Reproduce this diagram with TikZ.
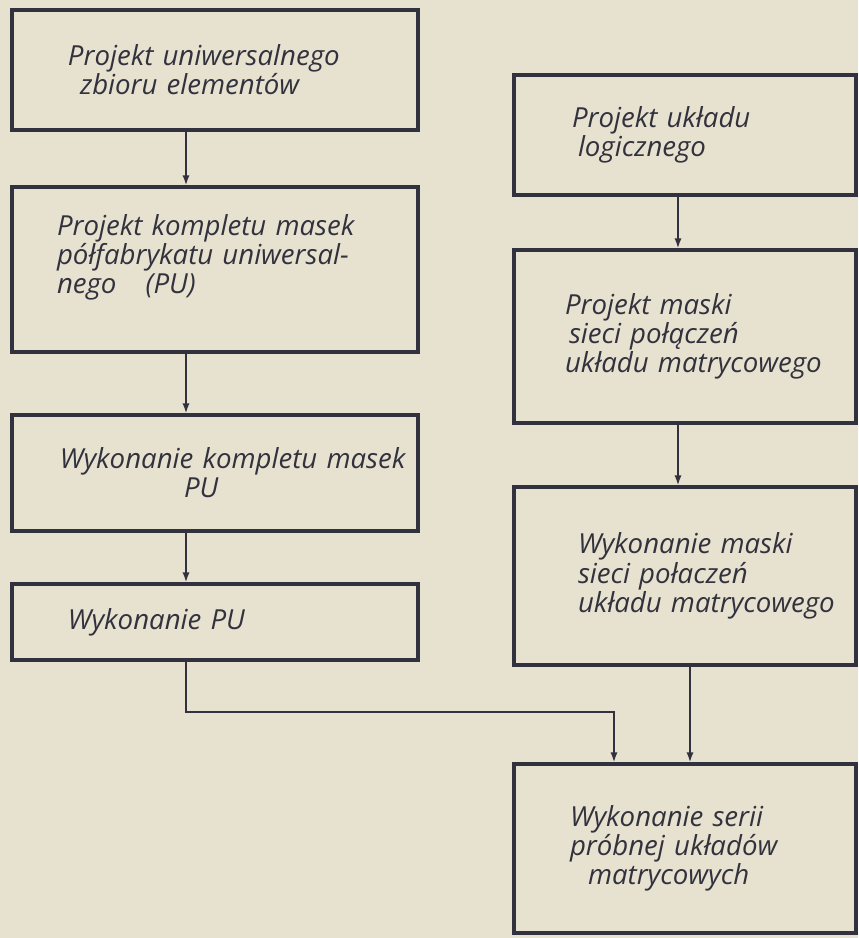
\documentclass[tikz,border=0pt]{standalone}
\usepackage{fontspec}
\usepackage{tikz}
\usetikzlibrary{arrows.meta}
\newfontfamily\lettering[WordSpace=2.2]{Open Sans}
\definecolor{paper}{RGB}{231,225,207}
\definecolor{ink}{RGB}{50,50,62}
\tikzstyle{stage} = [draw=ink, line width=1.6pt, rectangle, inner sep=0pt,
    text=ink, align=left, font=\lettering\itshape\fontsize{13.8}{14.6}\selectfont]
\tikzstyle{leftstage} = [stage, text width=203pt]
\tikzstyle{rightstage} = [stage, text width=171pt]
\tikzstyle{lpad} = [execute at begin node={\leftskip=#1\relax}]
\tikzstyle{flow} = [draw=ink, line width=1.1pt, -{Latex[length=5pt,width=3.6pt]}]

\begin{document}
\begin{tikzpicture}[x=0.5pt, y=-0.5pt]
                \fill[paper] (0,0) rectangle (858,938);
                \node[leftstage, minimum height=60pt, lpad=28pt] (uniset) at (215,70)
                    {Projekt uniwersalnego\\\hspace*{6pt}zbioru elementów};
                \node[leftstage, minimum height=82.5pt, lpad=22.5pt] (puproj) at (215,269.5)
                    {Projekt kompletu masek\\półfabrykatu uniwersal-\\nego\hspace{10pt} (PU)\par\vspace{12pt}};
                \node[leftstage, minimum height=58pt, lpad=24pt] (pumasks) at (215,473)
                    {Wykonanie kompletu masek\\\hspace*{62pt}PU};
                \node[leftstage, minimum height=38pt, lpad=28pt] (pumake) at (215,622)
                    {Wykonanie PU};
                \node[rightstage, minimum height=60pt, lpad=29pt] (logic) at (685,135)
                    {Projekt układu\\\hspace*{3pt}logicznego};
                \node[rightstage, minimum height=86.5pt, lpad=25.5pt] (netproj) at (685,336.5)
                    {Projekt maski\\\hspace*{2pt}sieci połączeń\\układu matrycowego};
                \node[rightstage, minimum height=89pt, lpad=32pt] (netmake) at (685,576)
                    {Wykonanie maski\\sieci połaczeń\\układu matrycowego};
                \node[rightstage, minimum height=84.5pt, lpad=28pt] (series) at (685,848.5)
                    {Wykonanie serii\\próbnej układów\\\hspace*{9pt}matrycowych};
                \coordinate (colL) at (186,0);
                \coordinate (colR) at (678,0);
                \coordinate (colF) at (690,0);
                \coordinate (bend) at (614,712);
                \draw[flow] (uniset.south -| colL) -- (puproj.north -| colL);
                \draw[flow] (puproj.south -| colL) -- (pumasks.north -| colL);
                \draw[flow] (pumasks.south -| colL) -- (pumake.north -| colL);
                \draw[flow] (pumake.south -| colL) |- (bend) -- (series.north -| bend);
                \draw[flow] (logic.south -| colR) -- (netproj.north -| colR);
                \draw[flow] (netproj.south -| colR) -- (netmake.north -| colR);
                \draw[flow] (netmake.south -| colF) -- (series.north -| colF);
            \end{tikzpicture}
\end{document}
